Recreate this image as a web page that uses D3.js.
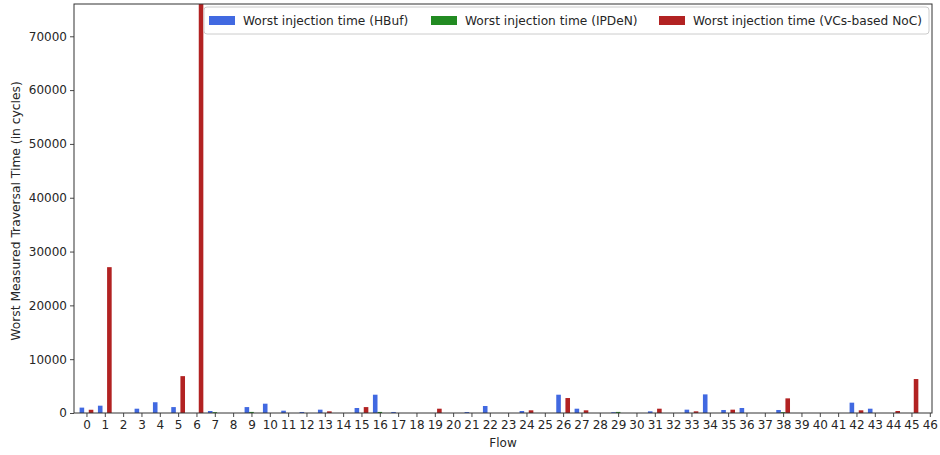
<!DOCTYPE html>
<html>
<head>
<meta charset="utf-8">
<script src="https://cdn.jsdelivr.net/npm/d3@7"></script>
<style>
  html, body { margin: 0; padding: 0; background: #fff; }
  svg { display: block; font-family: "DejaVu Sans", sans-serif; }
</style>
</head>
<body>
<svg id="chart" width="940" height="455"></svg>
<script>
// ---- data ----
const flows = d3.range(0, 47);
const seriesNames = ["Worst injection time (HBuf)", "Worst injection time (IPDeN)", "Worst injection time (VCs-based NoC)"];
const seriesColors = ["#4169e1", "#228b22", "#b22222"];
const hbuf = [1000, 1360, 0, 800, 2000, 1100, 0, 370, 0, 1100, 1730, 430, 190, 620, 0, 930, 3400, 190, 0, 0, 0, 180, 1300, 0, 370, 0, 3400, 800, 0, 150, 0, 310, 0, 620, 3460, 560, 930, 0, 560, 0, 0, 0, 1920, 800, 0, 0, 0];
const ipden = [0, 0, 0, 0, 0, 0, 0, 150, 0, 200, 0, 0, 0, 0, 0, 0, 200, 0, 0, 0, 0, 0, 0, 0, 0, 0, 0, 0, 0, 200, 0, 0, 0, 0, 0, 0, 0, 0, 150, 0, 0, 0, 0, 0, 0, 0, 0];
const vcs = [600, 27100, 0, 0, 0, 6850, 76000, 0, 0, 0, 0, 0, 0, 310, 0, 1100, 0, 0, 0, 800, 0, 0, 0, 0, 500, 0, 2780, 500, 0, 0, 0, 800, 0, 310, 0, 620, 0, 0, 2720, 0, 0, 0, 500, 0, 370, 6310, 0];
const yTicks = [0, 10000, 20000, 30000, 40000, 50000, 60000, 70000];
const series = [hbuf, ipden, vcs];

// ---- layout ----
const W = 940, H = 455;
const m = { left: 74, right: 8, top: 4, bottom: 42 };
const svg = d3.select("#chart");
const x = d3.scaleLinear().domain([-0.68, 46.12]).range([m.left, W - m.right]);
const y = d3.scaleLinear().domain([0, 76000]).range([H - m.bottom, m.top]);
const barW = 0.25;
const offsets = [-barW, 0, barW];
const textColor = "#262626";

svg.append("defs").append("clipPath").attr("id", "plotclip")
  .append("rect").attr("x", m.left).attr("y", m.top)
  .attr("width", W - m.left - m.right).attr("height", H - m.top - m.bottom);

const barsG = svg.append("g").attr("clip-path", "url(#plotclip)");
series.forEach((vals, si) => {
  barsG.append("g").selectAll("rect").data(flows).join("rect")
    .attr("x", d => x(d + offsets[si] - barW / 2))
    .attr("width", d => x(barW) - x(0))
    .attr("y", d => y(vals[d]))
    .attr("height", d => y(0) - y(vals[d]))
    .attr("fill", seriesColors[si]);
});

// axes
const xAxis = d3.axisBottom(x).tickValues(flows).tickSize(4).tickPadding(3).tickFormat(d3.format("d"));
const yAxis = d3.axisLeft(y).tickValues(yTicks).tickSize(4).tickPadding(3).tickFormat(d3.format("d"));
const gx = svg.append("g").attr("transform", `translate(0,${H - m.bottom})`).call(xAxis);
const gy = svg.append("g").attr("transform", `translate(${m.left},0)`).call(yAxis);
[gx, gy].forEach(g => {
  g.select(".domain").remove();
  g.selectAll(".tick line").attr("stroke", "#333").attr("stroke-width", 0.9);
  g.selectAll(".tick text").attr("fill", textColor).style("font-size", "12px").style("font-family", "DejaVu Sans, sans-serif");
});

// frame
svg.append("rect").attr("x", m.left).attr("y", m.top)
  .attr("width", W - m.left - m.right).attr("height", H - m.top - m.bottom)
  .attr("fill", "none").attr("stroke", "#333").attr("stroke-width", 1);

// axis labels
svg.append("text").attr("x", 503).attr("y", 447)
  .attr("text-anchor", "middle").attr("fill", textColor).style("font-size", "12px").text("Flow");
svg.append("text").attr("transform", `translate(20,211) rotate(-90)`)
  .attr("text-anchor", "middle").attr("fill", textColor).style("font-size", "12.3px")
  .text("Worst Measured Traversal Time (in cycles)");

// legend
const lg = svg.append("g");
lg.append("rect").attr("x", 204).attr("y", 7).attr("width", 725).attr("height", 27)
  .attr("rx", 3).attr("fill", "#fff").attr("fill-opacity", 0.85).attr("stroke", "#ccc");
const legendX = [209, 431, 659];
seriesNames.forEach((name, i) => {
  lg.append("rect").attr("x", legendX[i]).attr("y", 16).attr("width", 26).attr("height", 9).attr("fill", seriesColors[i]);
  lg.append("text").attr("x", legendX[i] + 34).attr("y", 25).attr("fill", textColor)
    .style("font-size", "12.2px").text(name);
});
</script>
</body>
</html>
